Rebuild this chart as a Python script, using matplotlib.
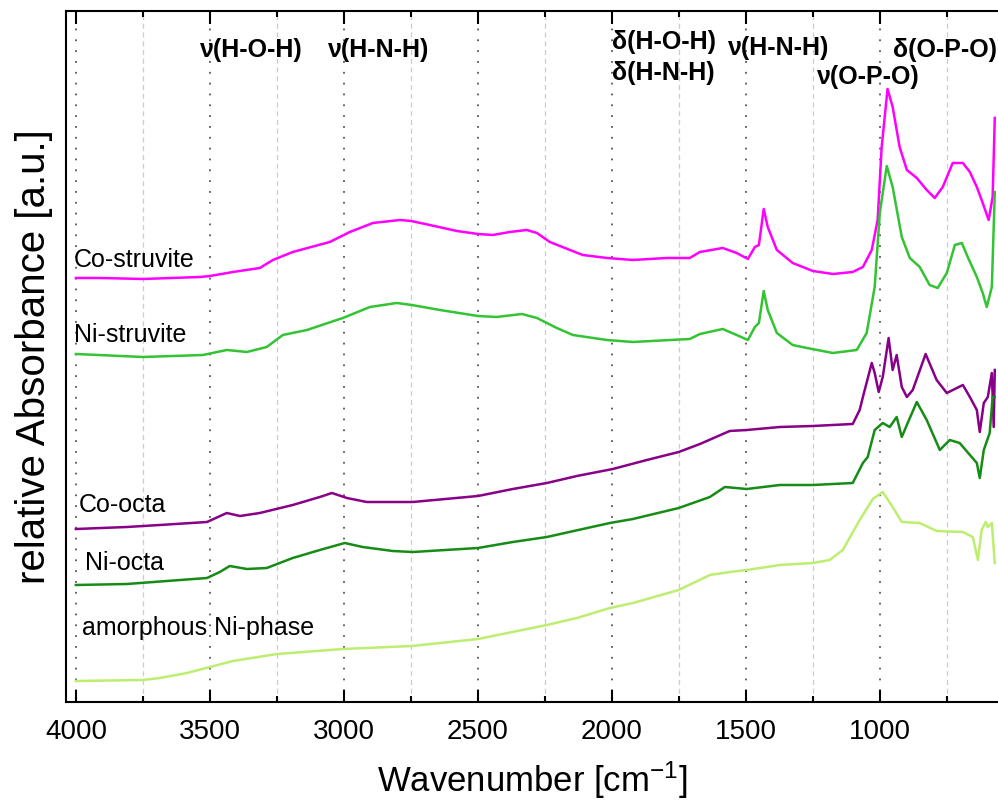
import matplotlib
matplotlib.use('Agg')
from matplotlib import pyplot as plt
from matplotlib.ticker import MultipleLocator

plt.rcParams['font.family'] = ['Liberation Sans', 'DejaVu Sans']
plt.rcParams['mathtext.fontset'] = 'custom'
plt.rcParams['mathtext.rm'] = 'Liberation Sans'

# spectra, (wavenumber, relative absorbance incl. offset)
co_struvite_w = [4000, 3910, 3750, 3537, 3500, 3414, 3314, 3265, 3191, 3053, 2978, 2892, 2791, 2750,
                 2680, 2579, 2500, 2445, 2381, 2318, 2280, 2232, 2157, 2109, 2019, 1922, 1796, 1710,
                 1672, 1587, 1535, 1493, 1467, 1452, 1434, 1419, 1385, 1326, 1251, 1176, 1102, 1064,
                 1031, 1009, 994, 972, 953, 927, 900, 863, 826, 796, 766, 729, 691, 665, 639, 617,
                 595, 580, 572]
co_struvite_a = [4.24, 4.24, 4.23, 4.25, 4.26, 4.30, 4.34, 4.42, 4.50, 4.60, 4.70, 4.79, 4.82, 4.81,
                 4.77, 4.71, 4.68, 4.67, 4.70, 4.72, 4.69, 4.60, 4.52, 4.47, 4.44, 4.42, 4.44, 4.44,
                 4.50, 4.54, 4.49, 4.43, 4.55, 4.57, 4.93, 4.75, 4.52, 4.39, 4.31, 4.28, 4.30, 4.35,
                 4.52, 4.82, 5.55, 6.13, 5.95, 5.55, 5.32, 5.24, 5.12, 5.04, 5.15, 5.39, 5.39, 5.30,
                 5.15, 4.99, 4.82, 5.05, 5.84]

ni_struvite_w = [4000, 3750, 3526, 3437, 3362, 3288, 3228, 3138, 3004, 2903, 2803, 2747, 2642, 2500,
                 2430, 2336, 2280, 2206, 2146, 2019, 1922, 1710, 1672, 1587, 1535, 1493, 1467, 1452,
                 1434, 1419, 1385, 1326, 1273, 1176, 1087, 1050, 1020, 1001, 975, 953, 919, 889, 852,
                 815, 785, 751, 721, 695, 673, 639, 617, 602, 583, 572]
ni_struvite_a = [3.48, 3.45, 3.47, 3.52, 3.50, 3.55, 3.67, 3.72, 3.84, 3.95, 3.99, 3.97, 3.92, 3.86,
                 3.85, 3.88, 3.84, 3.74, 3.67, 3.62, 3.60, 3.63, 3.68, 3.73, 3.67, 3.62, 3.75, 3.79,
                 4.11, 3.92, 3.69, 3.57, 3.54, 3.49, 3.52, 3.69, 4.15, 4.89, 5.36, 5.15, 4.65, 4.44,
                 4.35, 4.17, 4.14, 4.29, 4.57, 4.59, 4.45, 4.25, 4.09, 3.95, 4.15, 5.10]

co_octa_w = [4000, 3810, 3687, 3511, 3437, 3388, 3314, 3191, 3090, 3045, 2989, 2915, 2743, 2500, 2370,
             2243, 2131, 1997, 1870, 1751, 1672, 1561, 1497, 1374, 1251, 1102, 1076, 1064, 1031, 1020,
             1005, 990, 968, 953, 938, 919, 900, 878, 830, 789, 751, 691, 665, 639, 628, 613, 598,
             583, 576, 572]
co_octa_a = [1.73, 1.75, 1.77, 1.80, 1.89, 1.86, 1.89, 1.97, 2.05, 2.09, 2.04, 2.00, 2.00, 2.06, 2.13,
             2.19, 2.26, 2.33, 2.42, 2.50, 2.58, 2.71, 2.72, 2.75, 2.76, 2.78, 2.92, 3.05, 3.39, 3.29,
             3.10, 3.25, 3.64, 3.32, 3.47, 3.15, 3.05, 3.12, 3.48, 3.22, 3.09, 3.17, 3.05, 2.92, 2.70,
             2.99, 3.05, 3.29, 2.75, 3.32]

ni_octa_w = [4000, 3810, 3511, 3463, 3426, 3362, 3288, 3191, 3090, 2997, 2930, 2818, 2743, 2500, 2370,
             2243, 2109, 2008, 1922, 1751, 1635, 1579, 1497, 1374, 1251, 1102, 1064, 1046, 1020, 990,
             964, 938, 919, 897, 863, 826, 777, 740, 703, 639, 628, 613, 591, 580, 572]
ni_octa_a = [1.17, 1.18, 1.24, 1.30, 1.36, 1.33, 1.34, 1.44, 1.52, 1.59, 1.55, 1.51, 1.50, 1.54, 1.60,
             1.65, 1.73, 1.79, 1.83, 1.94, 2.05, 2.15, 2.13, 2.17, 2.17, 2.19, 2.39, 2.45, 2.72, 2.79,
             2.75, 2.85, 2.65, 2.79, 3.00, 2.82, 2.52, 2.62, 2.59, 2.39, 2.24, 2.52, 2.69, 3.05, 3.05]

amorphous_w = [4000, 3750, 3687, 3586, 3500, 3414, 3250, 3004, 2747, 2500, 2243, 2131, 2008, 1922, 1751,
               1635, 1561, 1497, 1374, 1251, 1188, 1139, 1076, 1027, 990, 953, 919, 852, 789, 691, 654,
               635, 621, 606, 598, 583, 572]
amorphous_a = [0.21, 0.22, 0.24, 0.29, 0.35, 0.41, 0.48, 0.53, 0.56, 0.63, 0.77, 0.84, 0.94, 0.99, 1.12,
               1.27, 1.30, 1.32, 1.37, 1.39, 1.42, 1.52, 1.82, 2.03, 2.10, 1.95, 1.80, 1.79, 1.71, 1.70,
               1.65, 1.42, 1.72, 1.80, 1.75, 1.79, 1.39]

series_names = ['Co-struvite', 'Ni-struvite', 'Co-octa', 'Ni-octa', 'amorphous Ni-phase']
series_colors = ['#ff00ff', '#33c333', '#880088', '#168c16', '#bdee70']
label_pos = [(4007, 4.42), (4007, 3.67), (3989, 1.97), (3966, 1.39), (3978, 0.74)]

band_labels = ['\u03bd(H-O-H)', '\u03bd(H-N-H)', '\u03b4(H-O-H)', '\u03b4(H-N-H)',
               '\u03bd(H-N-H)', '\u03bd(O-P-O)', '\u03b4(O-P-O)']
band_pos = [(3537, 6.52), (3060, 6.52), (2001, 6.60), (2001, 6.29),
            (1568, 6.54), (1236, 6.25), (953, 6.52)]

fig = plt.figure(figsize=(9.98, 8.07), dpi=100)
ax = fig.add_axes([0.0661, 0.1301, 0.9339, 0.8563])

spectra = [(co_struvite_w, co_struvite_a), (ni_struvite_w, ni_struvite_a),
           (co_octa_w, co_octa_a), (ni_octa_w, ni_octa_a), (amorphous_w, amorphous_a)]
for (w, a), color in zip(spectra, series_colors):
    ax.plot(w, a, color=color, lw=1.8, zorder=3, solid_joinstyle='round')

for name, (x, y) in zip(series_names, label_pos):
    ax.text(x, y, name, fontsize=18, ha='left', va='center', zorder=4)

for txt, (x, y) in zip(band_labels, band_pos):
    ax.text(x, y, txt, fontsize=18, fontweight='bold', ha='left', va='center', zorder=4)

ax.set_xlim(4037, 560)
ax.set_ylim(0, 6.91)
ax.xaxis.set_major_locator(MultipleLocator(500))
ax.xaxis.set_minor_locator(MultipleLocator(250))
ax.grid(which='major', axis='x', color='#555555', lw=1.3, linestyle=(0, (1, 5)), zorder=1)
ax.grid(which='minor', axis='x', color='#cccccc', lw=0.9, linestyle=(0, (4, 3)), zorder=1)
ax.tick_params(axis='x', which='major', direction='in', top=True, length=9, width=1.5,
               labelsize=20, pad=12)
ax.tick_params(axis='x', which='minor', direction='in', top=True, length=4.5, width=1.5)
ax.tick_params(axis='y', left=False, labelleft=False)
ax.spines['right'].set_visible(False)
for s in ['left', 'top', 'bottom']:
    ax.spines[s].set_linewidth(1.5)

ax.set_xlabel('Wavenumber [cm$\\mathregular{^{-1}}$]', fontsize=25, labelpad=11)
ax.set_ylabel('relative Absorbance [a.u.]', fontsize=29, labelpad=9)

fig.savefig('out.png', dpi=100)
